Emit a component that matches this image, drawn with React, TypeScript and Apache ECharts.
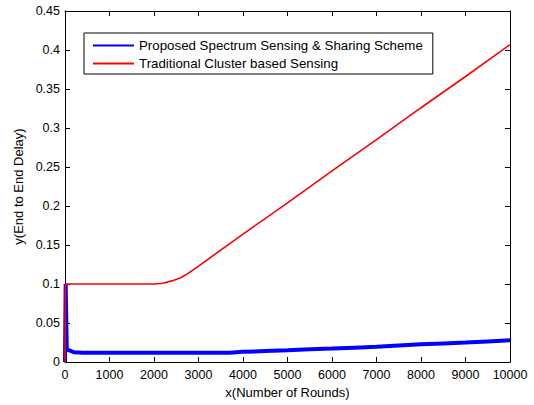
import React, { useEffect, useRef } from "react";
import * as echarts from "echarts";

const seriesNames = [
  "Proposed Spectrum Sensing & Sharing Scheme",
  "Traditional Cluster based Sensing",
];

// [rounds, delay]
const proposedData: [number, number][] = [
  [0, 0], [15, 0.1], [40, 0.016], [100, 0.015], [200, 0.0125], [400, 0.012],
  [1000, 0.012], [2000, 0.012], [3000, 0.012], [3700, 0.012], [4000, 0.013],
  [4500, 0.014], [5000, 0.015], [5500, 0.0163], [6000, 0.0172], [6500, 0.0184],
  [7000, 0.0196], [7500, 0.0211], [8000, 0.0226], [8500, 0.0238], [9000, 0.025],
  [9500, 0.0264], [10000, 0.0278],
];

const traditionalData: [number, number][] = [
  [0, 0], [10, 0.1], [200, 0.1], [1000, 0.1], [2000, 0.1], [2200, 0.101],
  [2400, 0.104], [2600, 0.108], [2750, 0.113], [3000, 0.123], [4000, 0.164],
  [5000, 0.204], [6000, 0.245], [7000, 0.285], [8000, 0.326], [9000, 0.366],
  [10000, 0.407],
];

const xMin = 0, xMax = 10000, xStep = 1000;
const yMin = 0, yMax = 0.45, yStep = 0.05;

const FONT = "'Liberation Sans', Arial, Helvetica, sans-serif";

export default function App() {
  const ref = useRef<HTMLDivElement>(null);
  useEffect(() => {
    if (!ref.current) return;
    const chart = echarts.init(ref.current, undefined, { renderer: "svg" });
    const axisCommon = {
      axisLine: { show: true, onZero: false, lineStyle: { color: "#000", width: 1 } },
      axisTick: { show: true, inside: true, length: 5, lineStyle: { color: "#000" } },
      splitLine: { show: false },
    };
    chart.setOption({
      animation: false,
      backgroundColor: "#fff",
      textStyle: { fontFamily: FONT },
      grid: { left: 65, top: 11, right: 24, bottom: 43, containLabel: false },
      legend: {
        orient: "vertical",
        left: 84,
        top: 33,
        data: seriesNames,
        itemWidth: 41,
        itemHeight: 14,
        itemGap: 5,
        padding: [6, 10, 4, 8],
        borderColor: "#000",
        borderWidth: 1,
        borderRadius: 0,
        backgroundColor: "#fff",
        itemStyle: { opacity: 0 },
        textStyle: { fontFamily: FONT, fontSize: 13.3, color: "#000" },
      },
      xAxis: [
        {
          type: "value", position: "bottom", min: xMin, max: xMax, interval: xStep,
          ...axisCommon,
          axisLabel: {
            color: "#000", fontSize: 12.5, fontFamily: FONT, margin: 6,
            formatter: (v: number) => String(v),
          },
          name: "x(Number of Rounds)", nameLocation: "middle", nameGap: 24,
          nameTextStyle: { color: "#000", fontSize: 13, fontFamily: FONT },
        },
        {
          type: "value", position: "top", min: xMin, max: xMax, interval: xStep,
          ...axisCommon, axisLabel: { show: false },
        },
      ],
      yAxis: [
        {
          type: "value", position: "left", min: yMin, max: yMax, interval: yStep,
          ...axisCommon,
          axisLabel: {
            color: "#000", fontSize: 12.5, fontFamily: FONT, margin: 5,
            formatter: (v: number) => String(Math.round(v * 100) / 100),
          },
          name: "y(End to End Delay)", nameLocation: "middle", nameGap: 39,
          nameTextStyle: { color: "#000", fontSize: 13, fontFamily: FONT },
        },
        {
          type: "value", position: "right", min: yMin, max: yMax, interval: yStep,
          ...axisCommon, axisLabel: { show: false },
        },
      ],
      series: [
        {
          name: seriesNames[0], type: "line", data: proposedData, showSymbol: false, symbol: "none",
          lineStyle: { color: "#0000ff", width: 4 }, itemStyle: { color: "#0000ff" },
        },
        {
          name: seriesNames[1], type: "line", data: traditionalData, showSymbol: false, symbol: "none",
          lineStyle: { color: "#ff0000", width: 1.6 }, itemStyle: { color: "#ff0000" },
        },
      ],
    });
    return () => chart.dispose();
  }, []);
  return (
    <div
      ref={ref}
      style={{ position: "fixed", left: 0, top: 0, width: 534, height: 405 }}
    />
  );
}
